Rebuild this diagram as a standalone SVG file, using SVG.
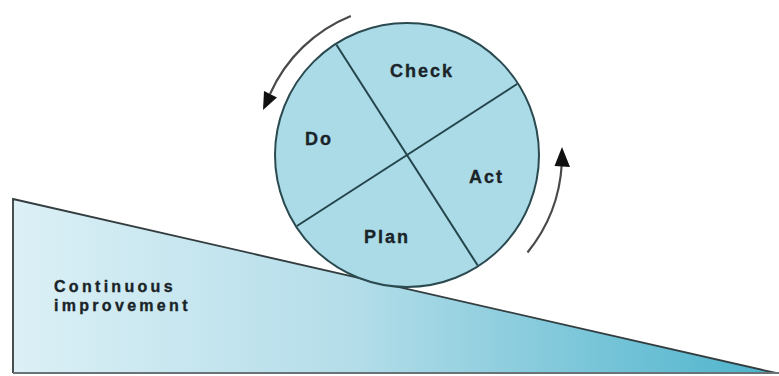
<svg xmlns="http://www.w3.org/2000/svg" width="779" height="376" viewBox="0 0 779 376">
<style>
.lbl{font-family:"Liberation Sans",Arial,sans-serif;font-weight:bold;fill:#1a2428;stroke:#1a2428;stroke-width:0.35;}
.seg{stroke:#24454c;stroke-width:2;fill:none;}
.arc{stroke:#4a4a4a;stroke-width:2.2;fill:none;}
.head{fill:#111;}
</style>
<defs>
<linearGradient id="rampGrad" x1="13" y1="0" x2="776" y2="0" gradientUnits="userSpaceOnUse">
<stop offset="0" stop-color="#dcf0f6"/>
<stop offset="0.45" stop-color="#b3dde9"/>
<stop offset="1" stop-color="#4cb3cc"/>
</linearGradient>
</defs>
<rect width="779" height="376" fill="#ffffff"/>
<g id="ramp">
<polygon points="13,199 776,373 13,373" fill="url(#rampGrad)"/>
<path d="M13,373 L13,199 L776,373" stroke="#333d40" stroke-width="1.8" fill="none"/>
<line x1="13" y1="373" x2="779" y2="373" stroke="#6b7376" stroke-width="2"/>
<text class="lbl" x="54" y="292" font-size="16" letter-spacing="3.3">Continuous</text>
<text class="lbl" x="54" y="311" font-size="16" letter-spacing="3.3">improvement</text>
</g>
<g id="wheel">
<circle cx="407" cy="155" r="132" fill="#acdbe8" stroke="#2a4a50" stroke-width="2"/>
<line class="seg" x1="336.4" y1="44.7" x2="477.6" y2="265.3"/>
<line class="seg" x1="517.1" y1="84" x2="296.9" y2="226"/>
</g>
<g id="check"><text class="lbl" x="390" y="77" font-size="18" letter-spacing="2">Check</text></g>
<g id="do"><text class="lbl" x="305" y="145" font-size="18" letter-spacing="2">Do</text></g>
<g id="act"><text class="lbl" x="469" y="183" font-size="18" letter-spacing="2">Act</text></g>
<g id="plan"><text class="lbl" x="364" y="243" font-size="18" letter-spacing="2">Plan</text></g>
<g id="connectors">
<path class="arc" d="M350.8,15.9 A150,150 0 0 0 270,94"/>
<polygon class="head" points="263,110 277,97.5 264,91"/>
<path class="arc" d="M527.5,252.5 A155,155 0 0 0 561.8,164"/>
<polygon class="head" points="562,147 570,167 554.5,166"/>
</g>
</svg>
